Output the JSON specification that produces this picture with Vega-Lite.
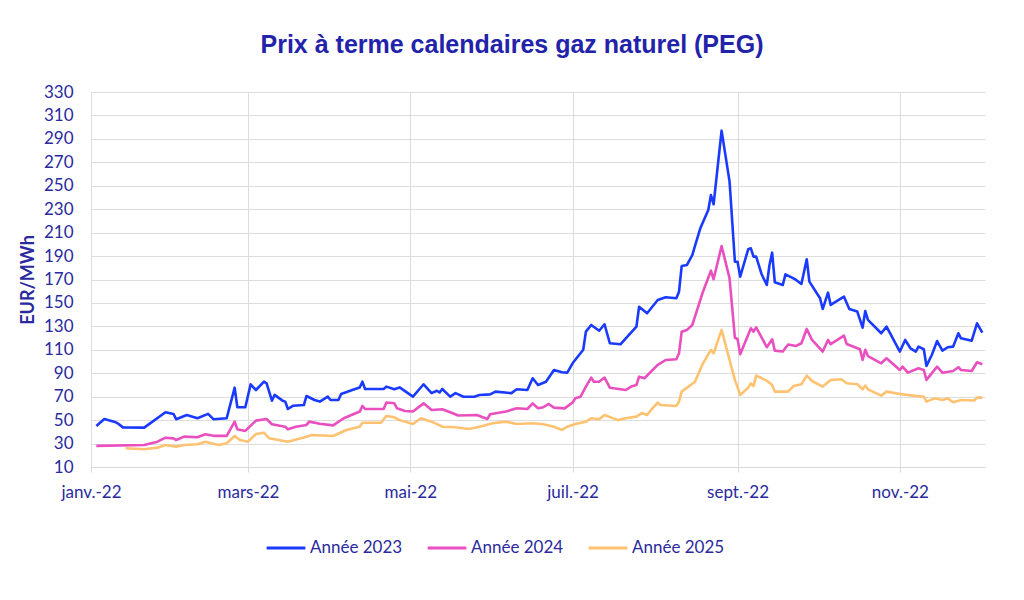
{
  "$schema": "https://vega.github.io/schema/vega-lite/v6.json",
  "autosize": "none",
  "width": 894,
  "height": 375,
  "padding": {"left": 91, "top": 92, "right": 39, "bottom": 133},
  "background": "white",
  "title": {
    "text": "Prix à terme calendaires gaz naturel (PEG)",
    "font": "Liberation Sans",
    "fontSize": 25,
    "fontWeight": "bold",
    "color": "#2222AA",
    "anchor": "middle",
    "dx": -26,
    "offset": 25
  },
  "config": {
    "view": {"stroke": null},
    "font": "Lato"
  },
  "data": {
    "values": [
      {"d": "2022-01-03", "s": "Année 2023", "v": 45},
      {"d": "2022-01-06", "s": "Année 2023", "v": 51},
      {"d": "2022-01-10", "s": "Année 2023", "v": 48.5},
      {"d": "2022-01-11", "s": "Année 2023", "v": 47.3},
      {"d": "2022-01-13", "s": "Année 2023", "v": 43.8},
      {"d": "2022-01-21", "s": "Année 2023", "v": 43.6},
      {"d": "2022-01-29", "s": "Année 2023", "v": 56.7},
      {"d": "2022-02-01", "s": "Année 2023", "v": 55.3},
      {"d": "2022-02-02", "s": "Année 2023", "v": 50.8},
      {"d": "2022-02-06", "s": "Année 2023", "v": 54.4},
      {"d": "2022-02-10", "s": "Année 2023", "v": 51.6},
      {"d": "2022-02-14", "s": "Année 2023", "v": 55.3},
      {"d": "2022-02-16", "s": "Année 2023", "v": 50.8},
      {"d": "2022-02-21", "s": "Année 2023", "v": 51.6},
      {"d": "2022-02-24", "s": "Année 2023", "v": 77.7},
      {"d": "2022-02-25", "s": "Année 2023", "v": 61},
      {"d": "2022-02-28", "s": "Année 2023", "v": 61},
      {"d": "2022-03-02", "s": "Année 2023", "v": 80.6},
      {"d": "2022-03-04", "s": "Année 2023", "v": 75.7},
      {"d": "2022-03-07", "s": "Année 2023", "v": 82.8},
      {"d": "2022-03-08", "s": "Année 2023", "v": 81.4},
      {"d": "2022-03-10", "s": "Année 2023", "v": 66.6},
      {"d": "2022-03-11", "s": "Année 2023", "v": 71.5},
      {"d": "2022-03-14", "s": "Année 2023", "v": 66.6},
      {"d": "2022-03-15", "s": "Année 2023", "v": 65.8},
      {"d": "2022-03-16", "s": "Année 2023", "v": 59.5},
      {"d": "2022-03-18", "s": "Année 2023", "v": 62.3},
      {"d": "2022-03-22", "s": "Année 2023", "v": 62.9},
      {"d": "2022-03-23", "s": "Année 2023", "v": 70.6},
      {"d": "2022-03-26", "s": "Année 2023", "v": 67.2},
      {"d": "2022-03-28", "s": "Année 2023", "v": 65.8},
      {"d": "2022-03-31", "s": "Année 2023", "v": 70},
      {"d": "2022-04-01", "s": "Année 2023", "v": 67.2},
      {"d": "2022-04-04", "s": "Année 2023", "v": 67.2},
      {"d": "2022-04-05", "s": "Année 2023", "v": 72.3},
      {"d": "2022-04-10", "s": "Année 2023", "v": 76.3},
      {"d": "2022-04-12", "s": "Année 2023", "v": 77.9},
      {"d": "2022-04-13", "s": "Année 2023", "v": 82.8},
      {"d": "2022-04-14", "s": "Année 2023", "v": 76.6},
      {"d": "2022-04-21", "s": "Année 2023", "v": 76.6},
      {"d": "2022-04-22", "s": "Année 2023", "v": 78.6},
      {"d": "2022-04-25", "s": "Année 2023", "v": 76.3},
      {"d": "2022-04-27", "s": "Année 2023", "v": 77.9},
      {"d": "2022-05-02", "s": "Année 2023", "v": 70},
      {"d": "2022-05-06", "s": "Année 2023", "v": 80.6},
      {"d": "2022-05-09", "s": "Année 2023", "v": 73},
      {"d": "2022-05-11", "s": "Année 2023", "v": 75.1},
      {"d": "2022-05-12", "s": "Année 2023", "v": 73.6},
      {"d": "2022-05-13", "s": "Année 2023", "v": 76.6},
      {"d": "2022-05-16", "s": "Année 2023", "v": 70},
      {"d": "2022-05-18", "s": "Année 2023", "v": 73},
      {"d": "2022-05-21", "s": "Année 2023", "v": 70},
      {"d": "2022-05-25", "s": "Année 2023", "v": 70},
      {"d": "2022-05-27", "s": "Année 2023", "v": 71.5},
      {"d": "2022-05-31", "s": "Année 2023", "v": 72},
      {"d": "2022-06-02", "s": "Année 2023", "v": 74.3},
      {"d": "2022-06-08", "s": "Année 2023", "v": 73},
      {"d": "2022-06-10", "s": "Année 2023", "v": 76.3},
      {"d": "2022-06-14", "s": "Année 2023", "v": 75.7},
      {"d": "2022-06-16", "s": "Année 2023", "v": 85.7},
      {"d": "2022-06-18", "s": "Année 2023", "v": 80},
      {"d": "2022-06-21", "s": "Année 2023", "v": 82.8},
      {"d": "2022-06-24", "s": "Année 2023", "v": 92.8},
      {"d": "2022-06-27", "s": "Année 2023", "v": 90.8},
      {"d": "2022-06-29", "s": "Année 2023", "v": 90.5},
      {"d": "2022-07-01", "s": "Année 2023", "v": 98.5},
      {"d": "2022-07-05", "s": "Année 2023", "v": 110},
      {"d": "2022-07-06", "s": "Année 2023", "v": 125.5},
      {"d": "2022-07-08", "s": "Année 2023", "v": 131.2},
      {"d": "2022-07-11", "s": "Année 2023", "v": 126.3},
      {"d": "2022-07-13", "s": "Année 2023", "v": 131.8},
      {"d": "2022-07-15", "s": "Année 2023", "v": 115.6},
      {"d": "2022-07-19", "s": "Année 2023", "v": 114.7},
      {"d": "2022-07-21", "s": "Année 2023", "v": 119.8},
      {"d": "2022-07-25", "s": "Année 2023", "v": 129.8},
      {"d": "2022-07-26", "s": "Année 2023", "v": 146.8},
      {"d": "2022-07-29", "s": "Année 2023", "v": 141.2},
      {"d": "2022-08-02", "s": "Année 2023", "v": 152.5},
      {"d": "2022-08-05", "s": "Année 2023", "v": 154.8},
      {"d": "2022-08-09", "s": "Année 2023", "v": 154},
      {"d": "2022-08-10", "s": "Année 2023", "v": 159.6},
      {"d": "2022-08-11", "s": "Année 2023", "v": 181.5},
      {"d": "2022-08-13", "s": "Année 2023", "v": 182.4},
      {"d": "2022-08-15", "s": "Année 2023", "v": 190.9},
      {"d": "2022-08-16", "s": "Année 2023", "v": 198.6},
      {"d": "2022-08-18", "s": "Année 2023", "v": 213.7},
      {"d": "2022-08-21", "s": "Année 2023", "v": 229.3},
      {"d": "2022-08-22", "s": "Année 2023", "v": 242.1},
      {"d": "2022-08-23", "s": "Année 2023", "v": 234.2},
      {"d": "2022-08-26", "s": "Année 2023", "v": 297},
      {"d": "2022-08-29", "s": "Année 2023", "v": 253.5},
      {"d": "2022-08-31", "s": "Année 2023", "v": 185.2},
      {"d": "2022-09-01", "s": "Année 2023", "v": 185.2},
      {"d": "2022-09-02", "s": "Année 2023", "v": 172.4},
      {"d": "2022-09-05", "s": "Année 2023", "v": 195.8},
      {"d": "2022-09-06", "s": "Année 2023", "v": 196.6},
      {"d": "2022-09-07", "s": "Année 2023", "v": 189.5},
      {"d": "2022-09-08", "s": "Année 2023", "v": 189.5},
      {"d": "2022-09-10", "s": "Année 2023", "v": 174.7},
      {"d": "2022-09-12", "s": "Année 2023", "v": 165.3},
      {"d": "2022-09-13", "s": "Année 2023", "v": 182.4},
      {"d": "2022-09-14", "s": "Année 2023", "v": 192.9},
      {"d": "2022-09-15", "s": "Année 2023", "v": 167.6},
      {"d": "2022-09-18", "s": "Année 2023", "v": 165.3},
      {"d": "2022-09-19", "s": "Année 2023", "v": 174.4},
      {"d": "2022-09-22", "s": "Année 2023", "v": 171},
      {"d": "2022-09-23", "s": "Année 2023", "v": 169.6},
      {"d": "2022-09-25", "s": "Année 2023", "v": 166.2},
      {"d": "2022-09-27", "s": "Année 2023", "v": 187.3},
      {"d": "2022-09-28", "s": "Année 2023", "v": 168.2},
      {"d": "2022-10-02", "s": "Année 2023", "v": 154},
      {"d": "2022-10-03", "s": "Année 2023", "v": 144.8},
      {"d": "2022-10-05", "s": "Année 2023", "v": 158.8},
      {"d": "2022-10-06", "s": "Année 2023", "v": 148.3},
      {"d": "2022-10-11", "s": "Année 2023", "v": 155.3},
      {"d": "2022-10-13", "s": "Année 2023", "v": 144.8},
      {"d": "2022-10-16", "s": "Année 2023", "v": 142.6},
      {"d": "2022-10-18", "s": "Année 2023", "v": 128.9},
      {"d": "2022-10-19", "s": "Année 2023", "v": 143.1},
      {"d": "2022-10-20", "s": "Année 2023", "v": 135.5},
      {"d": "2022-10-25", "s": "Année 2023", "v": 124.1},
      {"d": "2022-10-27", "s": "Année 2023", "v": 129.8},
      {"d": "2022-11-01", "s": "Année 2023", "v": 108.5},
      {"d": "2022-11-03", "s": "Année 2023", "v": 118.4},
      {"d": "2022-11-05", "s": "Année 2023", "v": 111.3},
      {"d": "2022-11-07", "s": "Année 2023", "v": 108.5},
      {"d": "2022-11-08", "s": "Année 2023", "v": 112.7},
      {"d": "2022-11-10", "s": "Année 2023", "v": 110.5},
      {"d": "2022-11-11", "s": "Année 2023", "v": 96.2},
      {"d": "2022-11-13", "s": "Année 2023", "v": 105.6},
      {"d": "2022-11-15", "s": "Année 2023", "v": 117.5},
      {"d": "2022-11-17", "s": "Année 2023", "v": 109.3},
      {"d": "2022-11-19", "s": "Année 2023", "v": 112.2},
      {"d": "2022-11-21", "s": "Année 2023", "v": 112.7},
      {"d": "2022-11-23", "s": "Année 2023", "v": 124.1},
      {"d": "2022-11-24", "s": "Année 2023", "v": 119.8},
      {"d": "2022-11-28", "s": "Année 2023", "v": 117.8},
      {"d": "2022-11-30", "s": "Année 2023", "v": 132.6},
      {"d": "2022-12-02", "s": "Année 2023", "v": 124.6},

      {"d": "2022-01-03", "s": "Année 2024", "v": 28},
      {"d": "2022-01-21", "s": "Année 2024", "v": 28.8},
      {"d": "2022-01-26", "s": "Année 2024", "v": 31.6},
      {"d": "2022-01-29", "s": "Année 2024", "v": 35},
      {"d": "2022-02-01", "s": "Année 2024", "v": 34.4},
      {"d": "2022-02-02", "s": "Année 2024", "v": 33},
      {"d": "2022-02-05", "s": "Année 2024", "v": 35.9},
      {"d": "2022-02-10", "s": "Année 2024", "v": 35.4},
      {"d": "2022-02-13", "s": "Année 2024", "v": 38},
      {"d": "2022-02-16", "s": "Année 2024", "v": 36.6},
      {"d": "2022-02-21", "s": "Année 2024", "v": 36.6},
      {"d": "2022-02-24", "s": "Année 2024", "v": 48.7},
      {"d": "2022-02-25", "s": "Année 2024", "v": 42.2},
      {"d": "2022-02-28", "s": "Année 2024", "v": 40.8},
      {"d": "2022-03-04", "s": "Année 2024", "v": 49.6},
      {"d": "2022-03-08", "s": "Année 2024", "v": 51},
      {"d": "2022-03-10", "s": "Année 2024", "v": 46.5},
      {"d": "2022-03-15", "s": "Année 2024", "v": 44.4},
      {"d": "2022-03-16", "s": "Année 2024", "v": 42.2},
      {"d": "2022-03-19", "s": "Année 2024", "v": 44.4},
      {"d": "2022-03-23", "s": "Année 2024", "v": 45.9},
      {"d": "2022-03-24", "s": "Année 2024", "v": 48.7},
      {"d": "2022-03-28", "s": "Année 2024", "v": 46.9},
      {"d": "2022-04-02", "s": "Année 2024", "v": 45.5},
      {"d": "2022-04-06", "s": "Année 2024", "v": 51.6},
      {"d": "2022-04-12", "s": "Année 2024", "v": 57.3},
      {"d": "2022-04-13", "s": "Année 2024", "v": 62.1},
      {"d": "2022-04-14", "s": "Année 2024", "v": 59.5},
      {"d": "2022-04-21", "s": "Année 2024", "v": 59.5},
      {"d": "2022-04-22", "s": "Année 2024", "v": 65},
      {"d": "2022-04-25", "s": "Année 2024", "v": 64.4},
      {"d": "2022-04-26", "s": "Année 2024", "v": 60.1},
      {"d": "2022-04-29", "s": "Année 2024", "v": 57.8},
      {"d": "2022-05-02", "s": "Année 2024", "v": 57.3},
      {"d": "2022-05-06", "s": "Année 2024", "v": 64.3},
      {"d": "2022-05-09", "s": "Année 2024", "v": 58.7},
      {"d": "2022-05-13", "s": "Année 2024", "v": 59.3},
      {"d": "2022-05-17", "s": "Année 2024", "v": 55.9},
      {"d": "2022-05-19", "s": "Année 2024", "v": 53.9},
      {"d": "2022-05-26", "s": "Année 2024", "v": 54.4},
      {"d": "2022-05-30", "s": "Année 2024", "v": 51},
      {"d": "2022-05-31", "s": "Année 2024", "v": 55},
      {"d": "2022-06-06", "s": "Année 2024", "v": 57.3},
      {"d": "2022-06-10", "s": "Année 2024", "v": 60.1},
      {"d": "2022-06-14", "s": "Année 2024", "v": 59.5},
      {"d": "2022-06-16", "s": "Année 2024", "v": 64.3},
      {"d": "2022-06-18", "s": "Année 2024", "v": 60.1},
      {"d": "2022-06-20", "s": "Année 2024", "v": 61},
      {"d": "2022-06-22", "s": "Année 2024", "v": 63.8},
      {"d": "2022-06-24", "s": "Année 2024", "v": 60.7},
      {"d": "2022-06-28", "s": "Année 2024", "v": 60},
      {"d": "2022-07-01", "s": "Année 2024", "v": 65},
      {"d": "2022-07-02", "s": "Année 2024", "v": 68.6},
      {"d": "2022-07-04", "s": "Année 2024", "v": 70},
      {"d": "2022-07-06", "s": "Année 2024", "v": 78.6},
      {"d": "2022-07-08", "s": "Année 2024", "v": 86.3},
      {"d": "2022-07-09", "s": "Année 2024", "v": 82.8},
      {"d": "2022-07-11", "s": "Année 2024", "v": 82.8},
      {"d": "2022-07-13", "s": "Année 2024", "v": 86.3},
      {"d": "2022-07-15", "s": "Année 2024", "v": 77.7},
      {"d": "2022-07-21", "s": "Année 2024", "v": 75.7},
      {"d": "2022-07-23", "s": "Année 2024", "v": 78.6},
      {"d": "2022-07-25", "s": "Année 2024", "v": 80},
      {"d": "2022-07-26", "s": "Année 2024", "v": 87.1},
      {"d": "2022-07-28", "s": "Année 2024", "v": 85.7},
      {"d": "2022-08-02", "s": "Année 2024", "v": 97.1},
      {"d": "2022-08-05", "s": "Année 2024", "v": 101.3},
      {"d": "2022-08-09", "s": "Année 2024", "v": 101.9},
      {"d": "2022-08-10", "s": "Année 2024", "v": 107},
      {"d": "2022-08-11", "s": "Année 2024", "v": 125.5},
      {"d": "2022-08-13", "s": "Année 2024", "v": 127},
      {"d": "2022-08-15", "s": "Année 2024", "v": 131.2},
      {"d": "2022-08-16", "s": "Année 2024", "v": 138.3},
      {"d": "2022-08-19", "s": "Année 2024", "v": 159.6},
      {"d": "2022-08-22", "s": "Année 2024", "v": 177.5},
      {"d": "2022-08-23", "s": "Année 2024", "v": 170.2},
      {"d": "2022-08-26", "s": "Année 2024", "v": 198.6},
      {"d": "2022-08-29", "s": "Année 2024", "v": 171},
      {"d": "2022-08-31", "s": "Année 2024", "v": 120.3},
      {"d": "2022-09-01", "s": "Année 2024", "v": 119.2},
      {"d": "2022-09-02", "s": "Année 2024", "v": 106.2},
      {"d": "2022-09-06", "s": "Année 2024", "v": 128.4},
      {"d": "2022-09-07", "s": "Année 2024", "v": 125.5},
      {"d": "2022-09-08", "s": "Année 2024", "v": 129.2},
      {"d": "2022-09-12", "s": "Année 2024", "v": 112.2},
      {"d": "2022-09-14", "s": "Année 2024", "v": 119},
      {"d": "2022-09-15", "s": "Année 2024", "v": 109.3},
      {"d": "2022-09-18", "s": "Année 2024", "v": 108.5},
      {"d": "2022-09-20", "s": "Année 2024", "v": 114.5},
      {"d": "2022-09-23", "s": "Année 2024", "v": 113.3},
      {"d": "2022-09-25", "s": "Année 2024", "v": 115.6},
      {"d": "2022-09-27", "s": "Année 2024", "v": 127.8},
      {"d": "2022-09-29", "s": "Année 2024", "v": 118.4},
      {"d": "2022-10-03", "s": "Année 2024", "v": 108.5},
      {"d": "2022-10-05", "s": "Année 2024", "v": 118.4},
      {"d": "2022-10-06", "s": "Année 2024", "v": 114.8},
      {"d": "2022-10-11", "s": "Année 2024", "v": 122.1},
      {"d": "2022-10-12", "s": "Année 2024", "v": 115},
      {"d": "2022-10-17", "s": "Année 2024", "v": 110.5},
      {"d": "2022-10-18", "s": "Année 2024", "v": 101.3},
      {"d": "2022-10-19", "s": "Année 2024", "v": 110},
      {"d": "2022-10-20", "s": "Année 2024", "v": 104.7},
      {"d": "2022-10-25", "s": "Année 2024", "v": 98.5},
      {"d": "2022-10-27", "s": "Année 2024", "v": 102.8},
      {"d": "2022-11-01", "s": "Année 2024", "v": 92.8},
      {"d": "2022-11-02", "s": "Année 2024", "v": 95.6},
      {"d": "2022-11-04", "s": "Année 2024", "v": 90.5},
      {"d": "2022-11-08", "s": "Année 2024", "v": 94.3},
      {"d": "2022-11-10", "s": "Année 2024", "v": 92.8},
      {"d": "2022-11-11", "s": "Année 2024", "v": 84.3},
      {"d": "2022-11-15", "s": "Année 2024", "v": 95.6},
      {"d": "2022-11-17", "s": "Année 2024", "v": 90.5},
      {"d": "2022-11-21", "s": "Année 2024", "v": 91.9},
      {"d": "2022-11-23", "s": "Année 2024", "v": 95.1},
      {"d": "2022-11-24", "s": "Année 2024", "v": 92.8},
      {"d": "2022-11-28", "s": "Année 2024", "v": 91.9},
      {"d": "2022-11-30", "s": "Année 2024", "v": 99.4},
      {"d": "2022-12-02", "s": "Année 2024", "v": 97.7},

      {"d": "2022-01-14", "s": "Année 2025", "v": 26},
      {"d": "2022-01-21", "s": "Année 2025", "v": 25.2},
      {"d": "2022-01-26", "s": "Année 2025", "v": 26.5},
      {"d": "2022-01-29", "s": "Année 2025", "v": 28.8},
      {"d": "2022-02-02", "s": "Année 2025", "v": 27.4},
      {"d": "2022-02-05", "s": "Année 2025", "v": 28.8},
      {"d": "2022-02-10", "s": "Année 2025", "v": 29.4},
      {"d": "2022-02-13", "s": "Année 2025", "v": 31.6},
      {"d": "2022-02-18", "s": "Année 2025", "v": 28.8},
      {"d": "2022-02-21", "s": "Année 2025", "v": 30.2},
      {"d": "2022-02-24", "s": "Année 2025", "v": 36.5},
      {"d": "2022-02-26", "s": "Année 2025", "v": 33},
      {"d": "2022-03-01", "s": "Année 2025", "v": 31.6},
      {"d": "2022-03-04", "s": "Année 2025", "v": 38.2},
      {"d": "2022-03-07", "s": "Année 2025", "v": 39.3},
      {"d": "2022-03-09", "s": "Année 2025", "v": 34.5},
      {"d": "2022-03-16", "s": "Année 2025", "v": 31.6},
      {"d": "2022-03-23", "s": "Année 2025", "v": 35.9},
      {"d": "2022-03-25", "s": "Année 2025", "v": 37.3},
      {"d": "2022-04-02", "s": "Année 2025", "v": 36.5},
      {"d": "2022-04-07", "s": "Année 2025", "v": 41.6},
      {"d": "2022-04-12", "s": "Année 2025", "v": 44.4},
      {"d": "2022-04-13", "s": "Année 2025", "v": 47.8},
      {"d": "2022-04-20", "s": "Année 2025", "v": 47.8},
      {"d": "2022-04-22", "s": "Année 2025", "v": 53.5},
      {"d": "2022-04-25", "s": "Année 2025", "v": 52.4},
      {"d": "2022-04-27", "s": "Année 2025", "v": 50},
      {"d": "2022-05-02", "s": "Année 2025", "v": 46.7},
      {"d": "2022-05-05", "s": "Année 2025", "v": 51.6},
      {"d": "2022-05-09", "s": "Année 2025", "v": 48.7},
      {"d": "2022-05-13", "s": "Année 2025", "v": 44.4},
      {"d": "2022-05-18", "s": "Année 2025", "v": 43.9},
      {"d": "2022-05-23", "s": "Année 2025", "v": 42.4},
      {"d": "2022-05-27", "s": "Année 2025", "v": 44.4},
      {"d": "2022-06-01", "s": "Année 2025", "v": 47.3},
      {"d": "2022-06-06", "s": "Année 2025", "v": 48.7},
      {"d": "2022-06-10", "s": "Année 2025", "v": 46.7},
      {"d": "2022-06-16", "s": "Année 2025", "v": 47.3},
      {"d": "2022-06-20", "s": "Année 2025", "v": 46.5},
      {"d": "2022-06-24", "s": "Année 2025", "v": 44.4},
      {"d": "2022-06-27", "s": "Année 2025", "v": 41.6},
      {"d": "2022-06-29", "s": "Année 2025", "v": 44.4},
      {"d": "2022-07-02", "s": "Année 2025", "v": 46.7},
      {"d": "2022-07-06", "s": "Année 2025", "v": 48.7},
      {"d": "2022-07-08", "s": "Année 2025", "v": 51.6},
      {"d": "2022-07-11", "s": "Année 2025", "v": 50.8},
      {"d": "2022-07-13", "s": "Année 2025", "v": 54.4},
      {"d": "2022-07-18", "s": "Année 2025", "v": 50},
      {"d": "2022-07-21", "s": "Année 2025", "v": 51.6},
      {"d": "2022-07-25", "s": "Année 2025", "v": 53},
      {"d": "2022-07-27", "s": "Année 2025", "v": 56},
      {"d": "2022-07-29", "s": "Année 2025", "v": 54.4},
      {"d": "2022-07-31", "s": "Année 2025", "v": 60.1},
      {"d": "2022-08-02", "s": "Année 2025", "v": 65},
      {"d": "2022-08-03", "s": "Année 2025", "v": 62.9},
      {"d": "2022-08-09", "s": "Année 2025", "v": 62.1},
      {"d": "2022-08-10", "s": "Année 2025", "v": 65.8},
      {"d": "2022-08-11", "s": "Année 2025", "v": 74.3},
      {"d": "2022-08-16", "s": "Année 2025", "v": 82.8},
      {"d": "2022-08-19", "s": "Année 2025", "v": 98.5},
      {"d": "2022-08-22", "s": "Année 2025", "v": 110},
      {"d": "2022-08-23", "s": "Année 2025", "v": 107},
      {"d": "2022-08-26", "s": "Année 2025", "v": 127},
      {"d": "2022-08-29", "s": "Année 2025", "v": 101.3},
      {"d": "2022-08-31", "s": "Année 2025", "v": 84.3},
      {"d": "2022-09-02", "s": "Année 2025", "v": 71.5},
      {"d": "2022-09-05", "s": "Année 2025", "v": 77.7},
      {"d": "2022-09-06", "s": "Année 2025", "v": 81.4},
      {"d": "2022-09-07", "s": "Année 2025", "v": 79.1},
      {"d": "2022-09-08", "s": "Année 2025", "v": 88},
      {"d": "2022-09-12", "s": "Année 2025", "v": 83.7},
      {"d": "2022-09-14", "s": "Année 2025", "v": 80},
      {"d": "2022-09-15", "s": "Année 2025", "v": 74.3},
      {"d": "2022-09-20", "s": "Année 2025", "v": 74.3},
      {"d": "2022-09-22", "s": "Année 2025", "v": 79.1},
      {"d": "2022-09-25", "s": "Année 2025", "v": 80.6},
      {"d": "2022-09-27", "s": "Année 2025", "v": 88},
      {"d": "2022-09-29", "s": "Année 2025", "v": 83.4},
      {"d": "2022-10-03", "s": "Année 2025", "v": 78.6},
      {"d": "2022-10-06", "s": "Année 2025", "v": 84.3},
      {"d": "2022-10-10", "s": "Année 2025", "v": 84.9},
      {"d": "2022-10-12", "s": "Année 2025", "v": 81.4},
      {"d": "2022-10-16", "s": "Année 2025", "v": 80.6},
      {"d": "2022-10-18", "s": "Année 2025", "v": 76.3},
      {"d": "2022-10-19", "s": "Année 2025", "v": 79.5},
      {"d": "2022-10-20", "s": "Année 2025", "v": 76.3},
      {"d": "2022-10-25", "s": "Année 2025", "v": 70.9},
      {"d": "2022-10-27", "s": "Année 2025", "v": 74.3},
      {"d": "2022-11-01", "s": "Année 2025", "v": 72.3},
      {"d": "2022-11-06", "s": "Année 2025", "v": 70.9},
      {"d": "2022-11-10", "s": "Année 2025", "v": 70},
      {"d": "2022-11-11", "s": "Année 2025", "v": 65.8},
      {"d": "2022-11-14", "s": "Année 2025", "v": 68.6},
      {"d": "2022-11-17", "s": "Année 2025", "v": 67.2},
      {"d": "2022-11-19", "s": "Année 2025", "v": 68.6},
      {"d": "2022-11-21", "s": "Année 2025", "v": 65.3},
      {"d": "2022-11-24", "s": "Année 2025", "v": 67.2},
      {"d": "2022-11-29", "s": "Année 2025", "v": 66.8},
      {"d": "2022-11-30", "s": "Année 2025", "v": 69.2},
      {"d": "2022-12-02", "s": "Année 2025", "v": 69.2}
    ]
  },
  "mark": {"type": "line", "strokeWidth": 2.6, "strokeJoin": "round"},
  "encoding": {
    "x": {
      "field": "d",
      "type": "temporal",
      "scale": {
        "type": "utc",
        "domain": [
          {"year": 2022, "month": 1, "date": 1, "utc": true},
          {"year": 2022, "month": 12, "date": 3, "utc": true}
        ]
      },
      "axis": {
        "title": null,
        "tickCount": {"interval": "month", "step": 2},
        "labelExpr": "['janv.','févr.','mars','avr.','mai','juin','juil.','août','sept.','oct.','nov.','déc.'][utcmonth(datum.value)] + '-22'",
        "labelFont": "Lato",
        "labelFontSize": 17,
        "labelColor": "#2A2A9E",
        "labelPadding": 12,
        "domainColor": "#D9D9D9",
        "tickColor": "#D9D9D9",
        "tickSize": 5,
        "gridColor": "#DDDDDD",
        "labelFlush": false
      }
    },
    "y": {
      "field": "v",
      "type": "quantitative",
      "scale": {"domain": [10, 330], "nice": false, "zero": false},
      "axis": {
        "title": "EUR/MWh",
        "titleFont": "Lato",
        "titleFontSize": 18,
        "titleFontWeight": "bold",
        "titleColor": "#2A2A9E",
        "titlePadding": 6,
        "values": [10, 30, 50, 70, 90, 110, 130, 150, 170, 190, 210, 230, 250, 270, 290, 310, 330],
        "labelFont": "Lato",
        "labelFontSize": 17,
        "labelColor": "#2A2A9E",
        "labelPadding": 18,
        "ticks": false,
        "domain": false,
        "gridColor": "#DDDDDD"
      }
    },
    "color": {
      "field": "s",
      "type": "nominal",
      "scale": {
        "domain": ["Année 2023", "Année 2024", "Année 2025"],
        "range": ["#1A3BFF", "#E94FBE", "#FFC270"]
      },
      "legend": {
        "title": null,
        "orient": "none",
        "direction": "horizontal",
        "legendX": 174,
        "legendY": 435,
        "symbolType": "stroke",
        "symbolSize": 1500,
        "symbolStrokeWidth": 3,
        "labelFont": "Lato",
        "labelFontSize": 17,
        "labelColor": "#2A2A9E",
        "labelOffset": 3,
        "columnPadding": 18
      }
    }
  }
}
